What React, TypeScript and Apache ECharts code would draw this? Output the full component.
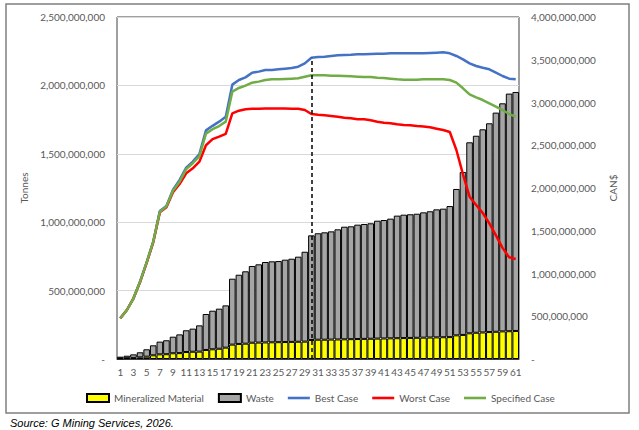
import { useRef, useEffect } from 'react';
import * as echarts from 'echarts';

// Period (1..61)
const periods = Array.from({ length: 61 }, (_, i) => String(i + 1));

// Tonnes, millions
const mineralized = [
  4, 6, 8, 12, 17, 27, 34, 35, 42, 43, 51, 53, 54, 66, 71, 75, 83, 105, 110, 112,
  119, 120, 121, 122, 123, 124, 125, 126, 127, 139, 141, 141, 142, 143, 144, 145,
  146, 147, 148, 149, 150, 151, 152, 153, 154, 155, 156, 157, 158, 159, 160, 173,
  176, 188, 192, 194, 197, 199, 202, 203, 205,
];
const waste = [
  13, 18, 26, 37, 54, 73, 93, 102, 121, 137, 159, 169, 192, 263, 282, 293, 309, 482,
  506, 529, 561, 572, 588, 592, 593, 602, 608, 622, 657, 765, 778, 785, 791, 805,
  823, 825, 836, 840, 844, 862, 866, 875, 896, 902, 904, 907, 916, 923, 936, 940,
  958, 1070, 1191, 1396, 1440, 1485, 1526, 1602, 1667, 1737, 1747,
];

// CAN$, billions
const bestCase = [
  0.476, 0.573, 0.71, 0.904, 1.131, 1.372, 1.73, 1.79, 1.98, 2.094, 2.238, 2.308,
  2.398, 2.674, 2.727, 2.776, 2.834, 3.209, 3.263, 3.294, 3.349, 3.361, 3.38, 3.38,
  3.388, 3.396, 3.404, 3.419, 3.458, 3.524, 3.532, 3.536, 3.544, 3.552, 3.556,
  3.559, 3.563, 3.563, 3.567, 3.571, 3.571, 3.575, 3.575, 3.577, 3.577, 3.577,
  3.575, 3.579, 3.583, 3.587, 3.575, 3.544, 3.505, 3.458, 3.427, 3.407, 3.388,
  3.349, 3.31, 3.279, 3.271,
];
const worstCase = [
  0.476, 0.573, 0.71, 0.9, 1.125, 1.365, 1.715, 1.775, 1.95, 2.047, 2.172, 2.23,
  2.308, 2.5, 2.571, 2.6, 2.632, 2.873, 2.904, 2.92, 2.928, 2.928, 2.93, 2.93, 2.93,
  2.93, 2.928, 2.928, 2.912, 2.865, 2.857, 2.85, 2.842, 2.834, 2.822, 2.815, 2.803,
  2.803, 2.792, 2.776, 2.764, 2.757, 2.745, 2.737, 2.733, 2.725, 2.72, 2.71, 2.694,
  2.678, 2.655, 2.444, 2.16, 1.898, 1.801, 1.708, 1.587, 1.445, 1.3, 1.19, 1.17,
];
const specifiedCase = [
  0.476, 0.573, 0.71, 0.904, 1.131, 1.372, 1.723, 1.785, 1.969, 2.074, 2.22, 2.29,
  2.37, 2.636, 2.688, 2.725, 2.776, 3.127, 3.17, 3.197, 3.232, 3.244, 3.263, 3.271,
  3.271, 3.275, 3.279, 3.283, 3.302, 3.318, 3.318, 3.318, 3.314, 3.314, 3.31, 3.306,
  3.302, 3.298, 3.298, 3.29, 3.287, 3.279, 3.271, 3.267, 3.267, 3.267, 3.271, 3.271,
  3.271, 3.271, 3.263, 3.232, 3.166, 3.095, 3.06, 3.029, 2.99, 2.951, 2.912, 2.865,
  2.834,
];

const dividerPeriod = '30';

const FONT = 'Lato';
const LABEL_GRAY = '#595959';
// thin bar used as the legend icon of the line series
const LINE_ICON = 'path://M0 0h22v2.6H0z';

const fmt = (v: number) => (v === 0 ? '-' : v.toLocaleString('en-US'));

export default function App() {
  const chartRef = useRef<HTMLDivElement>(null);

  useEffect(() => {
    if (!chartRef.current) return;
    const chart = echarts.init(chartRef.current, undefined, { renderer: 'svg' });

    const mt = (arr: number[]) => arr.map((v) => v * 1e6);
    const bn = (arr: number[]) => arr.map((v) => v * 1e9);
    const dividerIdx = periods.indexOf(dividerPeriod);

    chart.setOption({
      animation: false,
      backgroundColor: '#fff',
      textStyle: { fontFamily: FONT },
      title: {
        text: 'Source: G Mining Services, 2026.',
        left: 5,
        top: 412,
        textStyle: {
          fontFamily: 'Liberation Sans',
          fontStyle: 'italic',
          fontWeight: 'normal',
          fontSize: 11,
          color: '#000',
        },
      },
      graphic: [
        {
          type: 'rect',
          shape: { x: 6, y: 4, width: 623, height: 409 },
          style: { fill: 'none', stroke: '#7f7f7f', lineWidth: 1.5 },
          silent: true,
        },
      ],
      grid: {
        left: 117,
        right: 120,
        top: 17,
        bottom: 71,
        show: true,
        borderColor: '#404040',
        borderWidth: 1,
      },
      legend: {
        left: 81,
        top: 388,
        itemWidth: 22,
        itemHeight: 8,
        itemGap: 14,
        textStyle: { fontFamily: FONT, fontSize: 10, color: LABEL_GRAY },
        data: [
          { name: 'Mineralized Material', icon: 'rect' },
          { name: 'Waste', icon: 'rect' },
          { name: 'Best Case', icon: LINE_ICON },
          { name: 'Worst Case', icon: LINE_ICON },
          { name: 'Specified Case', icon: LINE_ICON },
        ],
      },
      xAxis: {
        type: 'category',
        data: periods,
        axisLine: { show: true, lineStyle: { color: '#404040', width: 1 } },
        axisTick: { show: false },
        axisLabel: {
          interval: 1,
          margin: 8,
          fontFamily: FONT,
          fontSize: 10,
          color: LABEL_GRAY,
        },
      },
      yAxis: [
        {
          type: 'value',
          name: 'Tonnes',
          nameLocation: 'middle',
          nameGap: 87,
          nameRotate: 90,
          nameTextStyle: { fontFamily: FONT, fontSize: 10, color: LABEL_GRAY },
          min: 0,
          max: 2.5e9,
          interval: 5e8,
          axisLine: { show: false },
          axisTick: { show: false },
          splitLine: { lineStyle: { color: '#d9d9d9', width: 1 } },
          axisLabel: {
            formatter: fmt,
            margin: 12,
            fontFamily: FONT,
            fontSize: 10,
            color: LABEL_GRAY,
          },
        },
        {
          type: 'value',
          name: 'CAN$',
          nameLocation: 'middle',
          nameGap: 89,
          nameRotate: 90,
          nameTextStyle: { fontFamily: FONT, fontSize: 10, color: LABEL_GRAY },
          min: 0,
          max: 4e9,
          interval: 5e8,
          axisLine: { show: false },
          axisTick: { show: false },
          splitLine: { show: false },
          axisLabel: {
            formatter: fmt,
            margin: 12,
            fontFamily: FONT,
            fontSize: 10,
            color: LABEL_GRAY,
          },
        },
      ],
      series: [
        {
          name: 'Mineralized Material',
          type: 'bar',
          stack: 'tonnes',
          barCategoryGap: '0%',
          data: mt(mineralized),
          itemStyle: { color: '#ffff00', borderColor: '#000', borderWidth: 1 },
        },
        {
          name: 'Waste',
          type: 'bar',
          stack: 'tonnes',
          barCategoryGap: '0%',
          data: mt(waste),
          itemStyle: { color: '#a5a5a5', borderColor: '#000', borderWidth: 1 },
        },
        {
          name: 'Best Case',
          type: 'line',
          yAxisIndex: 1,
          symbol: 'none',
          data: bn(bestCase),
          lineStyle: { color: '#4472c4', width: 2.5 },
          itemStyle: { color: '#4472c4' },
          markLine: {
            silent: true,
            symbol: 'none',
            label: { show: false },
            lineStyle: { color: '#000', width: 1.5, type: [4, 3] },
            data: [
              [
                { coord: [dividerIdx, 0] },
                { coord: [dividerIdx, bestCase[dividerIdx] * 1e9] },
              ],
            ],
          },
        },
        {
          name: 'Worst Case',
          type: 'line',
          yAxisIndex: 1,
          symbol: 'none',
          data: bn(worstCase),
          lineStyle: { color: '#ff0000', width: 2.5 },
          itemStyle: { color: '#ff0000' },
        },
        {
          name: 'Specified Case',
          type: 'line',
          yAxisIndex: 1,
          symbol: 'none',
          data: bn(specifiedCase),
          lineStyle: { color: '#70ad47', width: 2.5 },
          itemStyle: { color: '#70ad47' },
        },
      ],
    });

    return () => {
      chart.dispose();
    };
  }, []);

  return (
    <div
      ref={chartRef}
      style={{ position: 'fixed', left: 0, top: 0, width: 639, height: 430 }}
    />
  );
}
